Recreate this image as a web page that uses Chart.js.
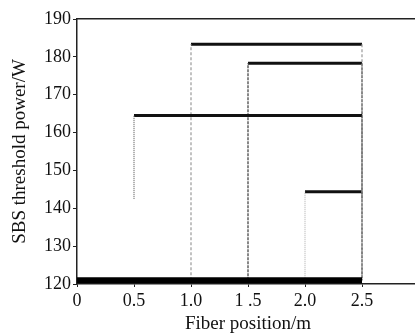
<!doctype html>
<html lang="en">
<head>
  <meta charset="utf-8">
  <title>SBS threshold power vs fiber position</title>
  <script src="https://cdn.jsdelivr.net/npm/chart.js"></script>
  <style>
    html, body { margin: 0; padding: 0; background: #fff; overflow: hidden; }
    #wrap { width: 415px; height: 335px; overflow: hidden; }
  </style>
</head>
<body>
  <div id="wrap"><canvas id="chart" width="440" height="335"></canvas></div>

  <script>
    // data
    const xTickValues = [0, 0.5, 1.0, 1.5, 2.0, 2.5, 3.0];
    const xTickLabels = ['0', '0.5', '1.0', '1 .5', '2.0', '2.5', '3'];
    const yTickValues = [120, 130, 140, 150, 160, 170, 180, 190];

    const stepStart = [0.5, 1.0, 1.5, 2.0];
    const stepEnd   = [2.5, 2.5, 2.5, 2.5];
    const stepLevel = [164.5, 183.3, 178.3, 144.4];
    const stepBase  = [142.5, 121, 121, 121];

    const baseX = [0, 2.5];
    const baseY = [121, 121];

    // look of the vertical connectors, one per step
    const vStyle = [
      { color: '#666', dash: [1, 1], width: 1.2 },
      { color: '#999', dash: [3, 2], width: 1.2 },
      { color: '#555', dash: [3, 1], width: 1.4 },
      { color: '#aaa', dash: [1, 1], width: 1 }
    ];

    const serif = 'Liberation Serif, Times New Roman, serif';
    const datasets = [];

    datasets.push({
      data: baseX.map((x, i) => ({ x, y: baseY[i] })),
      borderColor: '#000', borderWidth: 6, borderCapStyle: 'butt'
    });

    stepStart.forEach((x0, i) => {
      const x1 = stepEnd[i], lvl = stepLevel[i], b = stepBase[i];
      const st = vStyle[i];
      datasets.push({
        data: [{ x: x0, y: b }, { x: x0, y: lvl }],
        borderColor: st.color, borderWidth: st.width, borderDash: st.dash
      });
      datasets.push({
        data: [{ x: x1, y: lvl }, { x: x1, y: b }],
        borderColor: st.color, borderWidth: st.width, borderDash: st.dash
      });
      datasets.push({
        data: [{ x: x0, y: lvl }, { x: x1, y: lvl }],
        borderColor: '#111', borderWidth: 3, borderCapStyle: 'butt'
      });
    });

    new Chart(document.getElementById('chart'), {
      type: 'line',
      data: { datasets },
      options: {
        responsive: false,
        animation: false,
        events: [],
        clip: false,
        layout: { padding: { left: 8, right: 21, top: 19, bottom: 0 } },
        elements: { point: { radius: 0 }, line: { tension: 0 } },
        plugins: { legend: { display: false }, tooltip: { enabled: false } },
        scales: {
          x: {
            type: 'linear', min: 0, max: 3,
            afterBuildTicks: s => { s.ticks = xTickValues.map(v => ({ value: v })); },
            afterFit: s => { s.height = 51; },
            ticks: {
              color: '#111', padding: 3, maxRotation: 0, autoSkip: false,
              font: { family: serif, size: 18 },
              callback: (v, i) => xTickLabels[i]
            },
            grid: { drawOnChartArea: false, tickLength: 3, color: '#222' },
            border: { color: '#222', width: 1.5 },
            title: {
              display: true, text: 'Fiber position/m', color: '#111',
              font: { family: serif, size: 19 }, padding: { top: 0, bottom: 0 }
            }
          },
          xTop: {
            type: 'linear', position: 'top', min: 0, max: 3,
            afterFit: s => { s.height = 0; },
            ticks: { display: false },
            grid: { drawOnChartArea: false, drawTicks: false },
            border: { color: '#222', width: 1.5 }
          },
          y: {
            min: 120, max: 190,
            afterBuildTicks: s => { s.ticks = yTickValues.map(v => ({ value: v })); },
            afterFit: s => { s.width = 69; },
            ticks: {
              color: '#111', padding: 2,
              font: { family: serif, size: 18 }
            },
            grid: { drawOnChartArea: false, tickLength: 4, color: '#222' },
            border: { color: '#222', width: 1.5 },
            title: {
              display: true, text: 'SBS threshold power/W', color: '#111',
              font: { family: serif, size: 19 }, padding: { top: 1, bottom: 0 }
            }
          }
        }
      }
    });
  </script>
</body>
</html>
